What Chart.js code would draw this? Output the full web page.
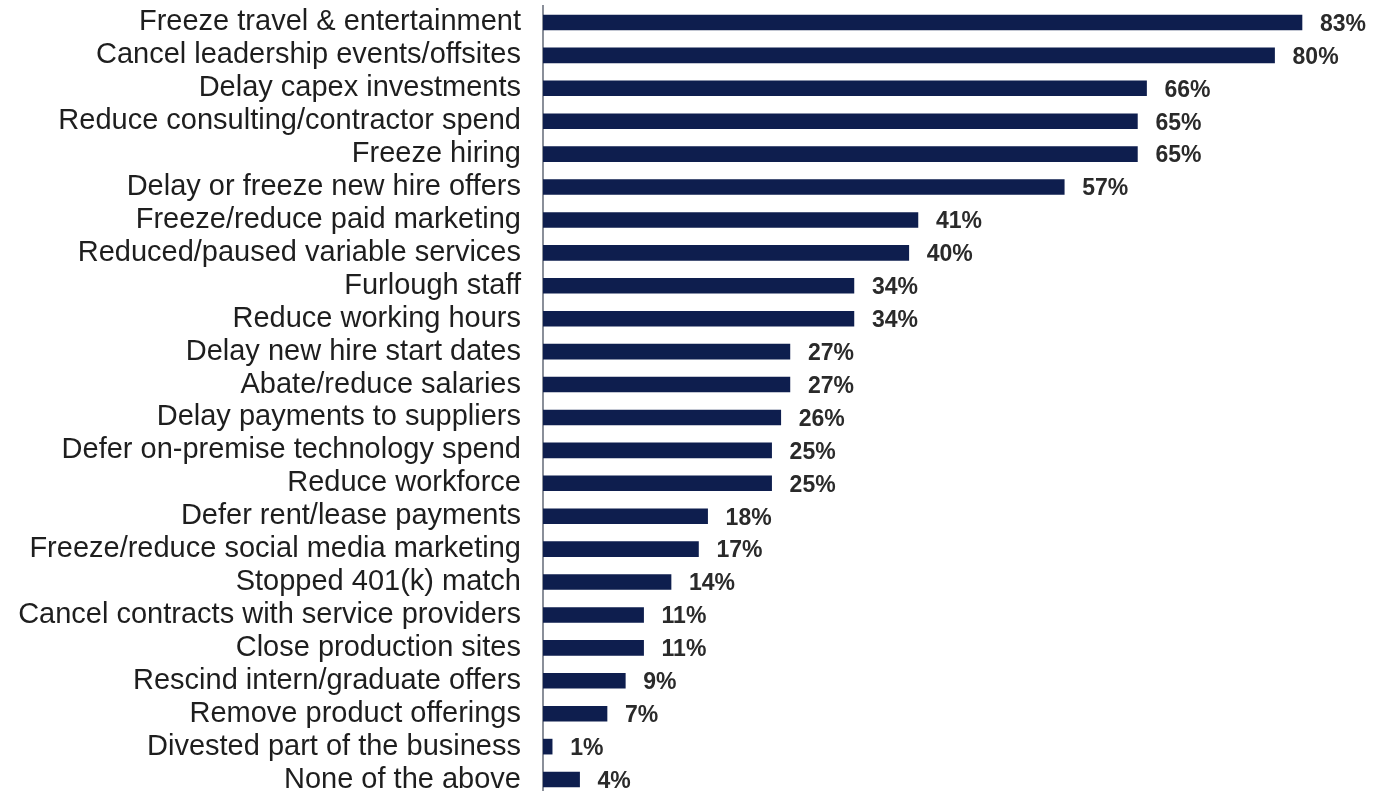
<!DOCTYPE html>
<html>
<head>
<meta charset="utf-8">
<script src="https://cdn.jsdelivr.net/npm/chart.js@4.4.1/dist/chart.umd.min.js"></script>
<style>
  html, body { margin: 0; padding: 0; background: #fff; overflow: hidden; }
  #wrap { width: 1378px; height: 796px; position: relative; }
</style>
</head>
<body>
<div id="wrap"><canvas id="GraficoCortes"></canvas></div>
<script>
const categorias = [
  "Freeze travel & entertainment",
  "Cancel leadership events/offsites",
  "Delay capex investments",
  "Reduce consulting/contractor spend",
  "Freeze hiring",
  "Delay or freeze new hire offers",
  "Freeze/reduce paid marketing",
  "Reduced/paused variable services",
  "Furlough staff",
  "Reduce working hours",
  "Delay new hire start dates",
  "Abate/reduce salaries",
  "Delay payments to suppliers",
  "Defer on-premise technology spend",
  "Reduce workforce",
  "Defer rent/lease payments",
  "Freeze/reduce social media marketing",
  "Stopped 401(k) match",
  "Cancel contracts with service providers",
  "Close production sites",
  "Rescind intern/graduate offers",
  "Remove product offerings",
  "Divested part of the business",
  "None of the above"
];
const percentuais = [83, 80, 66, 65, 65, 57, 41, 40, 34, 34, 27, 27, 26, 25, 25, 18, 17, 14, 11, 11, 9, 7, 1, 4];

const corBarra = "#0e1e4e";

// escreve o valor ao lado de cada barra
const rotuloValor = {
  id: "rotuloValor",
  afterDatasetsDraw(chart) {
    const ctx = chart.ctx;
    const meta = chart.getDatasetMeta(0);
    ctx.save();
    ctx.font = "bold 23px 'Liberation Sans', Arial, sans-serif";
    ctx.fillStyle = "#2a2a2a";
    ctx.textAlign = "left";
    ctx.textBaseline = "middle";
    meta.data.forEach((barra, i) => {
      ctx.fillText(percentuais[i] + "%", barra.x + 18, barra.y + 2);
    });
    ctx.restore();
  }
};

new Chart(document.getElementById("GraficoCortes"), {
  type: "bar",
  data: {
    labels: categorias,
    datasets: [
      {
        data: percentuais,
        backgroundColor: corBarra,
        borderWidth: 0,
        barThickness: 15,
      }
    ],
  },
  options: {
    indexAxis: "y",
    responsive: true,
    maintainAspectRatio: false,
    animation: false,
    layout: {
      padding: { top: 6, right: 12, bottom: 0, left: 0 },
    },
    scales: {
      x: {
        display: false,
        min: 0,
        max: 90,
      },
      y: {
        afterFit: function (scale) {
          scale.width = 543;
          scale.paddingTop = 0; // sem espaço extra em cima/baixo
          scale.paddingBottom = 0;
        },
        grid: {
          display: false,
          drawTicks: false,
        },
        border: {
          display: true,
          color: "#8a8f99",
          width: 2,
        },
        ticks: {
          autoSkip: false,
          color: "#1e1e1e",
          padding: 22,
          font: {
            family: "'Liberation Sans', Arial, sans-serif",
            size: 29,
          },
        },
      },
    },
    plugins: {
      legend: { display: false },
      tooltip: { enabled: false },
    },
  },
  plugins: [rotuloValor],
});
</script>
</body>
</html>
